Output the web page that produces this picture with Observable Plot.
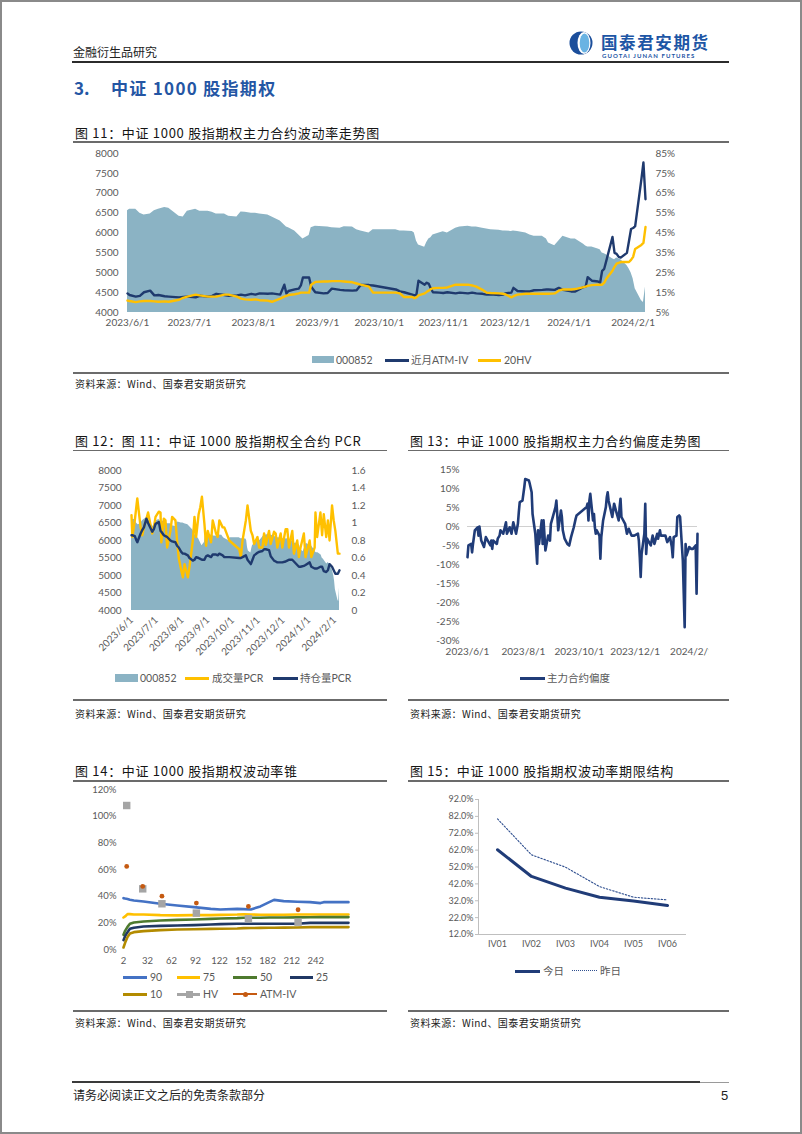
<!DOCTYPE html>
<html lang="zh-CN">
<head>
<meta charset="utf-8">
<script src="https://cdn.jsdelivr.net/npm/d3@7"></script>
<script src="https://cdn.jsdelivr.net/npm/@observablehq/plot@0.6"></script>
<style>
html,body{margin:0;padding:0;background:#fff;}
#page{position:relative;width:802px;height:1134px;overflow:hidden;background:#fff;font-family:"Noto Sans CJK SC","Noto Sans",sans-serif;}
#frame{position:absolute;left:0;top:0;width:802px;height:1134px;box-sizing:border-box;border:2px solid #8a8a8a;pointer-events:none;}
.t{position:absolute;white-space:nowrap;line-height:1;transform:translateY(-50%);}
.ttl{font-size:13px;color:#151515;letter-spacing:0.7px;}
.src{font-size:10px;color:#222;letter-spacing:0.4px;}
.lg{font-size:10.5px;color:#595959;font-family:Lato,"Noto Sans CJK SC",sans-serif;}
.r{position:absolute;}
.ch{position:absolute;}
</style>
</head>
<body>
<div id="page"></div>
<script>
// ---------------- DATA ----------------
// Fig 11: CSI 1000 index (left axis), near-month ATM IV and 20-day HV (right axis, %)
const dates11 = [
  "2023-06-01","2023-06-02","2023-06-05","2023-06-07","2023-06-09","2023-06-12","2023-06-14","2023-06-16","2023-06-19","2023-06-21","2023-06-26","2023-06-28","2023-06-30",
  "2023-07-04","2023-07-06","2023-07-10","2023-07-12","2023-07-14","2023-07-18","2023-07-20","2023-07-24","2023-07-26","2023-07-28","2023-07-31",
  "2023-08-02","2023-08-04","2023-08-08","2023-08-10","2023-08-14","2023-08-16","2023-08-17","2023-08-18","2023-08-21","2023-08-23","2023-08-24","2023-08-25","2023-08-28","2023-08-29","2023-08-31",
  "2023-09-04","2023-09-06","2023-09-08","2023-09-12","2023-09-14","2023-09-18","2023-09-20","2023-09-22","2023-09-26","2023-09-28",
  "2023-10-09","2023-10-11","2023-10-13","2023-10-17","2023-10-18","2023-10-19","2023-10-20","2023-10-23","2023-10-24","2023-10-25","2023-10-26","2023-10-27","2023-10-30",
  "2023-11-01","2023-11-03","2023-11-07","2023-11-09","2023-11-13","2023-11-15","2023-11-17","2023-11-20","2023-11-22","2023-11-24","2023-11-28","2023-11-30",
  "2023-12-01","2023-12-04","2023-12-05","2023-12-07","2023-12-11","2023-12-13","2023-12-15","2023-12-19","2023-12-21","2023-12-22","2023-12-25","2023-12-27","2023-12-29",
  "2024-01-02","2024-01-04","2024-01-08","2024-01-09","2024-01-10","2024-01-12","2024-01-15","2024-01-16","2024-01-17","2024-01-18","2024-01-19","2024-01-22","2024-01-23","2024-01-24","2024-01-25","2024-01-26","2024-01-29","2024-01-30","2024-01-31",
  "2024-02-01","2024-02-02","2024-02-05","2024-02-06","2024-02-07"
];
const index852 = [
  6560,6600,6600,6500,6450,6480,6560,6600,6640,6620,6420,6400,6550,
  6600,6550,6550,6520,6480,6480,6420,6400,6530,6520,6500,
  6500,6480,6450,6400,6300,6200,6150,6130,6050,5950,5900,5850,5940,6130,6170,
  6160,6150,6130,6120,6160,6150,6080,6050,6000,6080,
  6080,6050,6050,6040,6000,5800,5700,5640,5760,5850,5880,5950,6000,
  6030,6000,6120,6150,6170,6150,6150,6120,6100,6080,6070,6050,
  6050,6040,6050,6040,6000,5950,5920,5920,5850,5750,5680,5800,5920,
  5850,5850,5720,5670,5650,5650,5600,5580,5500,5480,5450,5350,5330,5370,5350,5330,5180,5100,5000,
  4850,4600,4300,4250,4640
];
const atmIV = [
  14.6,13.8,13.0,13.4,15.2,16.0,13.6,13.8,13.2,13.0,12.6,12.8,13.0,
  12.6,13.4,13.0,13.4,14.4,13.8,13.4,13.6,14.0,13.6,14.4,
  14.0,14.6,14.4,14.6,14.0,19.0,14.6,15.8,16.6,17.0,18.6,22.6,22.6,18.0,15.2,
  14.6,14.8,17.0,16.4,16.2,16.0,16.2,18.8,18.8,18.6,
  16.6,15.6,15.2,14.0,13.6,14.0,21.0,19.0,20.0,19.4,17.0,15.2,15.0,
  14.8,15.2,14.6,15.0,14.6,15.0,14.6,14.4,14.0,14.2,13.8,14.0,
  14.6,15.0,17.4,15.8,15.6,15.6,16.2,16.4,16.6,16.6,16.4,17.4,16.4,
  15.6,15.6,17.8,18.0,22.8,21.0,20.6,20.0,26.0,27.0,31.0,43.0,35.0,34.5,33.0,32.6,35.0,41.0,47.0,
  47.5,48.5,72.0,80.5,62.0
];
const hv20 = [
  11.0,10.8,10.2,10.6,10.8,10.8,10.6,10.4,10.6,10.4,11.4,12.4,13.0,
  14.0,13.6,13.0,13.0,13.0,14.0,14.0,13.0,12.0,11.6,11.4,
  11.6,11.2,11.0,10.4,12.0,13.0,13.4,13.8,14.2,14.6,15.0,15.0,15.0,19.0,20.4,
  20.6,20.6,20.8,20.8,20.6,20.2,19.6,19.0,18.0,15.0,
  15.0,14.6,12.8,12.8,12.2,12.6,13.6,14.6,15.4,16.0,16.8,17.2,17.4,
  17.4,17.6,19.0,19.0,19.0,18.6,18.0,16.4,15.0,14.8,14.6,14.4,
  14.2,12.6,13.2,14.0,14.4,14.4,14.4,14.4,14.4,14.4,14.6,16.0,16.6,
  16.6,16.8,17.8,18.0,18.4,18.8,19.0,19.0,19.0,20.0,22.0,26.0,28.0,29.6,30.0,30.4,30.4,30.4,31.5,
  33.0,37.0,39.0,40.0,48.0
];

// Fig 12: put/call ratios (right axis)
const dates12 = [
  "2023-06-01","2023-06-02","2023-06-05","2023-06-07","2023-06-08","2023-06-12","2023-06-14","2023-06-16","2023-06-19","2023-06-21","2023-06-26","2023-06-28","2023-06-30",
  "2023-07-04","2023-07-06","2023-07-07","2023-07-10","2023-07-12","2023-07-14","2023-07-18","2023-07-20","2023-07-24","2023-07-26","2023-07-28","2023-07-31",
  "2023-08-02","2023-08-04","2023-08-08","2023-08-10","2023-08-14","2023-08-16","2023-08-18","2023-08-21","2023-08-23","2023-08-25","2023-08-28","2023-08-30",
  "2023-09-01","2023-09-05","2023-09-07","2023-09-11","2023-09-13","2023-09-15","2023-09-19","2023-09-21","2023-09-25","2023-09-27",
  "2023-10-09","2023-10-11","2023-10-13","2023-10-17","2023-10-19","2023-10-23","2023-10-25","2023-10-27","2023-10-31",
  "2023-11-02","2023-11-06","2023-11-08","2023-11-10","2023-11-14","2023-11-16","2023-11-20","2023-11-22","2023-11-24","2023-11-28","2023-11-30",
  "2023-12-04","2023-12-06","2023-12-08","2023-12-12","2023-12-14","2023-12-18","2023-12-20","2023-12-22","2023-12-26","2023-12-28",
  "2024-01-02","2024-01-04","2024-01-08","2024-01-09","2024-01-11","2024-01-15","2024-01-17","2024-01-19","2024-01-22","2024-01-24","2024-01-26","2024-01-29","2024-01-31",
  "2024-02-02","2024-02-05","2024-02-07"
];
const volumePCR = [
  1.09,0.84,1.03,1.20,1.28,0.95,0.86,0.95,1.05,1.12,0.88,0.95,1.07,
  1.13,1.12,0.78,1.05,1.03,0.72,0.91,1.07,1.03,0.80,0.60,0.46,
  0.38,0.53,0.38,0.50,0.80,1.07,0.84,1.10,1.18,1.30,0.99,0.74,
  0.91,0.78,1.03,0.88,0.84,1.03,0.95,0.95,0.85,0.80,
  0.70,0.61,0.80,1.03,1.20,0.91,0.86,0.76,0.84,
  0.72,0.72,0.88,0.75,0.91,0.76,0.90,0.88,0.72,0.88,0.72,
  0.93,0.93,0.72,0.91,0.65,0.80,0.61,0.72,0.88,0.61,
  0.80,0.61,0.72,1.12,0.84,1.12,0.86,1.10,0.84,1.03,0.80,1.20,1.03,
  0.91,0.65,0.65
];
const oiPCR = [
  0.86,0.86,0.85,0.80,0.78,0.88,0.92,0.95,1.05,1.00,0.90,0.93,0.99,
  1.01,0.91,0.90,0.86,0.85,0.84,0.80,0.79,0.78,0.74,0.72,0.67,
  0.65,0.65,0.63,0.60,0.57,0.58,0.61,0.60,0.59,0.58,0.58,0.62,
  0.63,0.61,0.64,0.64,0.63,0.65,0.63,0.61,0.61,0.61,
  0.60,0.60,0.61,0.63,0.58,0.53,0.58,0.63,0.66,
  0.67,0.68,0.70,0.70,0.69,0.62,0.57,0.56,0.55,0.55,0.55,
  0.56,0.57,0.58,0.58,0.56,0.52,0.50,0.50,0.51,0.52,
  0.55,0.50,0.48,0.48,0.48,0.50,0.50,0.45,0.44,0.46,0.53,0.50,0.46,
  0.42,0.42,0.46
];

// Fig 13: main contract skew (%)
const dates13 = [
  "2023-06-01","2023-06-02","2023-06-05","2023-06-06","2023-06-07","2023-06-09","2023-06-12","2023-06-13","2023-06-14","2023-06-16","2023-06-19","2023-06-21","2023-06-26","2023-06-27","2023-06-28","2023-06-29",
  "2023-07-03","2023-07-04","2023-07-06","2023-07-07","2023-07-10","2023-07-13","2023-07-14","2023-07-17","2023-07-19","2023-07-21","2023-07-24","2023-07-26","2023-07-27","2023-07-28","2023-07-31",
  "2023-08-02","2023-08-03","2023-08-07","2023-08-08","2023-08-10","2023-08-11","2023-08-14","2023-08-15","2023-08-16","2023-08-17","2023-08-18","2023-08-21","2023-08-22","2023-08-23","2023-08-25","2023-08-28","2023-08-30","2023-08-31",
  "2023-09-04","2023-09-05","2023-09-06","2023-09-08","2023-09-11","2023-09-12","2023-09-13","2023-09-15","2023-09-18","2023-09-20","2023-09-22","2023-09-25","2023-09-27","2023-09-28",
  "2023-10-09","2023-10-10","2023-10-11","2023-10-12","2023-10-13","2023-10-16","2023-10-17","2023-10-18","2023-10-19","2023-10-20","2023-10-23","2023-10-24","2023-10-25","2023-10-27","2023-10-30","2023-10-31",
  "2023-11-01","2023-11-02","2023-11-06","2023-11-08","2023-11-10","2023-11-13","2023-11-14","2023-11-15","2023-11-16","2023-11-20","2023-11-22","2023-11-24","2023-11-27","2023-11-30",
  "2023-12-04","2023-12-05","2023-12-06","2023-12-07","2023-12-08","2023-12-11","2023-12-12","2023-12-13","2023-12-14","2023-12-18","2023-12-20","2023-12-22","2023-12-25","2023-12-26","2023-12-28","2023-12-29",
  "2024-01-03","2024-01-05","2024-01-08","2024-01-10","2024-01-11","2024-01-12","2024-01-15","2024-01-16","2024-01-18","2024-01-19","2024-01-22","2024-01-23","2024-01-24","2024-01-25","2024-01-26","2024-01-29","2024-01-31",
  "2024-02-02","2024-02-05","2024-02-06","2024-02-07"
];
const skew = [
  -8.1,-5.0,-4.6,-6.8,-4.6,-1.0,-0.2,-2.4,0.0,-3.7,-5.4,-2.8,-5.0,-3.7,-5.9,-3.7,
  -4.6,-3.2,-2.4,-1.0,-1.9,1.1,-1.9,-0.2,-1.9,1.1,-1.9,0.7,3.8,6.4,6.8,
  10.4,12.5,12.1,11.2,9.0,3.3,-1.9,-5.9,-9.8,-1.0,-4.6,1.6,-4.6,1.6,-6.3,-2.4,-3.7,0.7,
  4.2,5.1,6.8,-1.0,4.2,2.5,-1.0,-3.2,-4.6,-5.0,-2.8,-0.2,2.0,2.9,
  5.1,6.0,1.6,6.8,8.6,1.6,3.3,-0.2,-1.9,-1.0,-2.4,-8.5,-2.8,1.6,5.1,7.7,
  9.0,6.8,2.5,6.0,4.2,1.6,5.1,7.3,2.5,0.7,-1.9,-0.6,-2.4,-2.4,
  -1.9,-3.7,-8.1,-13.3,-7.2,-1.9,6.0,-7.2,-3.2,-5.0,-2.4,-4.6,-1.9,-3.2,-1.0,-2.4,
  -2.4,-4.1,-2.8,-5.4,-8.1,-2.8,-2.4,2.5,2.9,2.5,-9.0,-17.7,-26.5,-4.6,-7.6,-5.4,-5.9,
  -5.9,-5.0,-17.7,-1.9
];

// Fig 14: volatility cone (days to expiry vs percentile vol, %)
const coneDays = [2, 4, 7, 10, 15, 27, 48, 69, 90, 111, 123, 144, 152, 161, 173, 184, 190, 202, 219, 235, 248, 252, 283];
const cone90 = [38.5,38.2,37.8,37.3,36.8,36.0,34.3,33.0,31.8,30.5,30.0,30.5,30.3,30.0,32.3,35.5,37.2,36.3,35.8,35.5,34.8,35.5,35.5];
const cone75 = [24.0,24.8,26.5,26.5,26.2,26.3,25.8,25.6,25.8,25.8,26.0,26.2,26.4,26.2,26.1,26.1,26.1,26.1,26.2,26.3,26.3,26.3,26.3];
const cone50 = [11.0,14.0,17.0,19.3,20.2,21.0,21.8,22.2,22.5,23.0,23.2,23.5,23.8,23.8,23.8,24.0,24.0,24.0,24.1,24.2,24.3,24.3,24.3];
const cone25 = [7.0,10.0,13.0,15.5,16.3,17.2,17.7,18.0,18.3,18.8,19.0,19.3,19.3,19.3,19.3,19.3,19.3,19.3,19.3,20.0,20.0,20.0,20.0];
const cone10 = [1.5,5.0,9.3,12.0,13.0,13.8,14.5,15.0,15.2,15.5,15.6,15.8,16.0,16.1,16.2,16.3,16.3,16.4,16.5,16.8,16.8,16.8,16.8];
const markDays = [6, 26, 50, 93, 158, 220];
const hvMarks = [108, 45.5, 34.3, 27.3, 23.0, 20.5];
const atmMarks = [62.3, 47.3, 40.0, 34.8, 32.3, 29.8];
const coneTicks = [2, 32, 62, 92, 122, 152, 182, 212, 242];

// Fig 15: term structure (%)
const terms = ["IV01", "IV02", "IV03", "IV04", "IV05", "IV06"];
const today = [62.2, 46.4, 39.5, 34.1, 31.8, 29.2];
const yesterday = [80.5, 59.2, 51.9, 40.4, 34.1, 32.5];

// axis tick values / labels
const monthTicks11 = ["2023-06-01","2023-07-01","2023-08-01","2023-09-01","2023-10-01","2023-11-01","2023-12-01","2024-01-01","2024-02-01"];
const monthTicks13 = ["2023-06-01","2023-08-01","2023-10-01","2023-12-01","2024-02-01"];
const indexTicks = [4000, 4500, 5000, 5500, 6000, 6500, 7000, 7500, 8000];
const skewTicks = [-30, -25, -20, -15, -10, -5, 0, 5, 10, 15];
const coneYTicks = [0, 20, 40, 60, 80, 100, 120];
const termYTicks = [12, 22, 32, 42, 52, 62, 72, 82, 92];

// ---------------- HELPERS ----------------
const page = document.getElementById("page");
const parse = d3.utcParse("%Y-%m-%d");
const fmtDate = d => `${d.getUTCFullYear()}/${d.getUTCMonth() + 1}/${d.getUTCDate()}`;
const plain = d => String(d);
const NAVY = "#1F3A6E", GOLD = "#FFC000", AREA = "#8BB3C4";
const axisStyle = (fs) => ({fontFamily: "Lato, 'Noto Sans CJK SC', sans-serif", fontSize: fs || "10px", color: "#595959", background: "transparent", overflow: "visible"});

function txt(s, x, y, cls, css) {
  const d = document.createElement("div");
  d.className = "t " + cls; d.textContent = s;
  d.style.left = x + "px"; d.style.top = y + "px";
  if (css) Object.assign(d.style, css);
  page.appendChild(d); return d;
}
function box(x, y, w, h, css) {
  const d = document.createElement("div");
  d.className = "r";
  Object.assign(d.style, {left: x + "px", top: y + "px", width: w + "px", height: h + "px"}, css);
  page.appendChild(d); return d;
}
function hline(x1, x2, y, h, color) { return box(x1, y - h / 2, x2 - x1, h, {background: color}); }
function legLine(x1, x2, y, color, w) { return hline(x1, x2, y, w || 3, color); }
function legDotted(x1, x2, y, color) { return box(x1, y - 1, x2 - x1, 0, {borderTop: "1.5px dotted " + color}); }
function mount(svg, x, y, clipW, clipH) {
  const d = document.createElement("div");
  d.className = "ch";
  d.style.left = x + "px"; d.style.top = y + "px";
  if (clipW) { d.style.width = clipW + "px"; d.style.height = clipH + "px"; d.style.overflow = "hidden"; }
  d.appendChild(svg); page.appendChild(d); return d;
}

// ---------------- PAGE FURNITURE ----------------
txt("金融衍生品研究", 73, 52, "", {fontSize: "12px", color: "#222"});
hline(72, 729, 61.5, 2, "#2b2b2b");
// logo
(function () {
  const ns = "http://www.w3.org/2000/svg";
  const s = document.createElementNS(ns, "svg");
  s.setAttribute("width", 30); s.setAttribute("height", 30);
  s.style.position = "absolute"; s.style.left = "566px"; s.style.top = "28px";
  s.innerHTML = '<circle cx="15" cy="15" r="11.5" fill="#1B4E9B"/>' +
    '<ellipse cx="18" cy="15" rx="6.5" ry="11" fill="#ffffff"/>' +
    '<ellipse cx="18.5" cy="15" rx="4.8" ry="9.5" fill="#69B3E3"/>';
  page.appendChild(s);
})();
txt("国泰君安期货", 601, 41.5, "", {fontSize: "16.5px", fontWeight: "700", color: "#1D56A5", letterSpacing: "1.6px"});
txt("GUOTAI JUNAN FUTURES", 602, 55.5, "", {fontSize: "6px", fontWeight: "700", color: "#1D56A5", letterSpacing: "1.05px", fontFamily: "Lato, sans-serif"});
txt("3.", 74, 87, "", {fontSize: "17px", fontWeight: "700", color: "#2456A4"});
txt("中证 1000 股指期权", 111, 87, "", {fontSize: "17px", fontWeight: "700", color: "#2456A4", letterSpacing: "1.3px"});

hline(72, 700, 1082, 2, "#3a3a3a");
hline(700, 729, 1082, 1, "#9a9a9a");
txt("请务必阅读正文之后的免责条款部分", 73, 1095, "", {fontSize: "12px", color: "#222"});
txt("5", 721, 1095, "", {fontSize: "13px", color: "#222", fontFamily: "'Liberation Sans', sans-serif"});

// chart frames
const SRC = "资料来源：Wind、国泰君安期货研究";
txt("图 11：中证 1000 股指期权主力合约波动率走势图", 75, 132, "ttl");
hline(73, 729, 142, 1.5, "#6b6b6b");
hline(73, 729, 373, 1.5, "#6b6b6b");
txt(SRC, 75, 384, "src");

txt("图 12：图 11：中证 1000 股指期权全合约 PCR", 75, 440, "ttl");
hline(73, 387, 450.5, 1.5, "#6b6b6b");
hline(73, 387, 700, 1.5, "#6b6b6b");
txt(SRC, 75, 714, "src");

txt("图 13：中证 1000 股指期权主力合约偏度走势图", 410, 440, "ttl");
hline(408, 729, 450.5, 1.5, "#6b6b6b");
hline(408, 729, 700, 1.5, "#6b6b6b");
txt(SRC, 410, 714, "src");

txt("图 14：中证 1000 股指期权波动率锥", 75, 770, "ttl");
hline(73, 387, 781, 1.5, "#6b6b6b");
hline(73, 387, 1011, 1.5, "#6b6b6b");
txt(SRC, 75, 1023, "src");

txt("图 15：中证 1000 股指期权波动率期限结构", 410, 770, "ttl");
hline(408, 729, 781, 1.5, "#6b6b6b");
hline(408, 729, 1011, 1.5, "#6b6b6b");
txt(SRC, 410, 1023, "src");

// ---------------- FIG 11 ----------------
const rows11 = dates11.map((d, i) => ({date: parse(d), idx: index852[i], iv: atmIV[i], hv: hv20[i]}));
const toLeft11 = v => 4000 + (v - 5) * 50;          // right axis % -> left axis units
const fromLeft11 = d => `${(d - 4000) / 50 + 5}%`;
const c11 = Plot.plot({
  width: 656, height: 194, marginLeft: 54, marginRight: 84, marginTop: 10, marginBottom: 25,
  style: axisStyle("10px"),
  x: {type: "utc", domain: [parse("2023-06-01"), parse("2024-02-07")], label: null},
  y: {domain: [4000, 8000], label: null},
  marks: [
    Plot.areaY(rows11, {x: "date", y1: 4000, y2: "idx", fill: AREA}),
    Plot.lineY(rows11, {x: "date", y: d => toLeft11(d.iv), stroke: NAVY, strokeWidth: 2.4}),
    Plot.lineY(rows11, {x: "date", y: d => toLeft11(d.hv), stroke: GOLD, strokeWidth: 2.4}),
    Plot.axisY({ticks: indexTicks, anchor: "left", tickSize: 0, tickPadding: 9, tickFormat: plain, label: null}),
    Plot.axisY({ticks: indexTicks, anchor: "right", tickSize: 0, tickPadding: 10, tickFormat: fromLeft11, label: null}),
    Plot.axisX({ticks: monthTicks11.map(parse), tickSize: 0, tickPadding: 6, tickFormat: fmtDate, label: null})
  ]
});
mount(c11, 73, 143);
box(312, 356, 22, 7, {background: AREA});
txt("000852", 336, 360, "lg");
legLine(385, 409, 360, NAVY);
txt("近月ATM-IV", 411, 360, "lg");
legLine(478, 501, 360, GOLD);
txt("20HV", 504, 360, "lg");

// ---------------- FIG 12 ----------------
const rows12 = dates12.map((d, i) => ({date: parse(d), vol: volumePCR[i], oi: oiPCR[i]}));
const toLeft12 = v => 4000 + v * 2500;              // right axis PCR -> left axis units
const fromLeft12 = d => String(+((d - 4000) / 2500).toFixed(1));
const c12 = Plot.plot({
  width: 314, height: 208, marginLeft: 58, marginRight: 48, marginTop: 18, marginBottom: 50,
  style: axisStyle("10px"),
  x: {type: "utc", domain: [parse("2023-06-01"), parse("2024-02-07")], label: null},
  y: {domain: [4000, 8000], label: null},
  marks: [
    Plot.areaY(rows11, {x: "date", y1: 4000, y2: "idx", fill: AREA}),
    Plot.lineY(rows12, {x: "date", y: d => toLeft12(d.vol), stroke: GOLD, strokeWidth: 2.4}),
    Plot.lineY(rows12, {x: "date", y: d => toLeft12(d.oi), stroke: NAVY, strokeWidth: 2.4}),
    Plot.axisY({ticks: indexTicks, anchor: "left", tickSize: 0, tickPadding: 10, tickFormat: plain, label: null}),
    Plot.axisY({ticks: indexTicks, anchor: "right", tickSize: 0, tickPadding: 12, tickFormat: fromLeft12, label: null}),
    Plot.axisX({ticks: monthTicks11.map(parse), tickSize: 0, tickPadding: 8, tickRotate: -45, tickFormat: fmtDate, label: null})
  ]
});
mount(c12, 73, 452);
box(115, 674, 23, 8, {background: AREA});
txt("000852", 140, 678, "lg");
legLine(185, 209, 678, GOLD);
txt("成交量PCR", 212, 678, "lg");
legLine(273, 298, 678, NAVY);
txt("持仓量PCR", 300, 678, "lg");

// ---------------- FIG 13 ----------------
const rows13 = dates13.map((d, i) => ({date: parse(d), v: skew[i]}));
const c13 = Plot.plot({
  width: 301, height: 207, marginLeft: 59, marginRight: 12, marginTop: 14, marginBottom: 22,
  style: axisStyle("10px"),
  x: {type: "utc", domain: [parse("2023-06-01"), parse("2024-02-07")], label: null},
  y: {domain: [-30, 15], label: null},
  marks: [
    Plot.ruleY([0], {stroke: "#d0d0d0", strokeWidth: 1}),
    Plot.lineY(rows13, {x: "date", y: "v", stroke: "#203C78", strokeWidth: 2.6}),
    Plot.axisY({ticks: skewTicks, anchor: "left", tickSize: 0, tickPadding: 8, tickFormat: d => d + "%", label: null}),
    Plot.axisX({ticks: monthTicks13.map(parse), tickSize: 0, tickPadding: 7, tickFormat: fmtDate, label: null})
  ]
});
mount(c13, 408, 455, 301, 212);
legLine(520, 545, 678, "#203C78");
txt("主力合约偏度", 547, 678, "lg");

// ---------------- FIG 14 ----------------
const coneRows = coneDays.map((x, i) => ({x, p90: cone90[i], p75: cone75[i], p50: cone50[i], p25: cone25[i], p10: cone10[i]}));
const markRows = markDays.map((x, i) => ({x, hv: hvMarks[i], atm: atmMarks[i]}));
const C90 = "#4472C4", C75 = "#FFC000", C50 = "#4E7A2E", C25 = "#203864", C10 = "#B38B00", CHV = "#A5A5A5", CATM = "#C55A11";
const c14 = Plot.plot({
  width: 287, height: 188, marginLeft: 50, marginRight: 12, marginTop: 6, marginBottom: 22,
  style: axisStyle("9.5px"),
  x: {domain: [2, 283], label: null},
  y: {domain: [0, 120], label: null},
  marks: [
    Plot.lineY(coneRows, {x: "x", y: "p90", stroke: C90, strokeWidth: 2.6}),
    Plot.lineY(coneRows, {x: "x", y: "p75", stroke: C75, strokeWidth: 2.6}),
    Plot.lineY(coneRows, {x: "x", y: "p50", stroke: C50, strokeWidth: 2.6}),
    Plot.lineY(coneRows, {x: "x", y: "p25", stroke: C25, strokeWidth: 2.6}),
    Plot.lineY(coneRows, {x: "x", y: "p10", stroke: C10, strokeWidth: 2.6}),
    Plot.dot(markRows, {x: "x", y: "hv", symbol: "square", fill: CHV, r: 4.2}),
    Plot.dot(markRows, {x: "x", y: "atm", fill: CATM, r: 2.4}),
    Plot.axisY({ticks: coneYTicks, anchor: "left", tickSize: 0, tickPadding: 7, tickFormat: d => d + "%", label: null}),
    Plot.axisX({ticks: coneTicks, tickSize: 0, tickPadding: 8, label: null})
  ]
});
mount(c14, 73, 783);
legLine(123, 147, 977, C90); txt("90", 150, 977, "lg");
legLine(177, 200, 977, C75); txt("75", 203, 977, "lg");
legLine(233, 257, 977, C50); txt("50", 260, 977, "lg");
legLine(290, 313, 977, C25); txt("25", 316, 977, "lg");
legLine(123, 147, 994, C10); txt("10", 150, 994, "lg");
legLine(177, 200, 994, CHV); box(185.5, 990.5, 7, 7, {background: CHV}); txt("HV", 203, 994, "lg");
legLine(233, 257, 994, CATM, 2); box(242.5, 991.5, 5, 5, {background: CATM, borderRadius: "50%"}); txt("ATM-IV", 260, 994, "lg");

// ---------------- FIG 15 ----------------
const termRows = terms.map((t, i) => ({t, today: today[i], yesterday: yesterday[i]}));
const c15 = Plot.plot({
  width: 321, height: 164, marginLeft: 70, marginRight: 43, marginTop: 9, marginBottom: 20,
  style: axisStyle("9px"),
  x: {type: "point", domain: terms, padding: 0.5, label: null},
  y: {domain: [12, 92], label: null},
  marks: [
    Plot.ruleY([12], {stroke: "#bfbfbf", strokeWidth: 1}),
    Plot.lineY(termRows, {x: "t", y: "yesterday", stroke: "#2F4F8F", strokeWidth: 1.1, strokeDasharray: "1.5,1.8"}),
    Plot.lineY(termRows, {x: "t", y: "today", stroke: "#203C78", strokeWidth: 3}),
    Plot.axisY({ticks: termYTicks, anchor: "left", tickSize: 3, tickPadding: 2, stroke: "#bfbfbf", tickFormat: d => d.toFixed(1) + "%", label: null}),
    Plot.axisX({tickSize: 0, tickPadding: 6, label: null})
  ]
});
mount(c15, 408, 790);
hline(478, 479, 866.5, 135, "#bfbfbf");
legLine(515, 540, 971, "#203C78");
txt("今日", 543, 971, "lg");
legDotted(572, 597, 971, "#2F4F8F");
txt("昨日", 600, 971, "lg");

// page border
const fr = document.createElement("div"); fr.id = "frame"; page.appendChild(fr);
</script>
</body>
</html>
